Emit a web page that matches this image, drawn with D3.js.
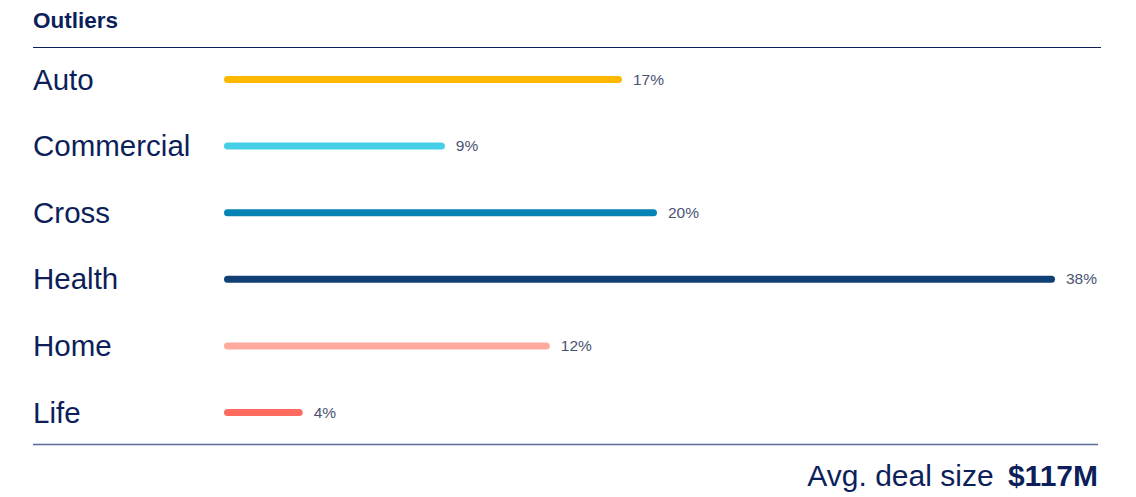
<!DOCTYPE html>
<html>
<head>
<meta charset="utf-8">
<script src="https://cdn.jsdelivr.net/npm/d3@7/dist/d3.min.js"></script>
<style>
  body { margin: 0; background: #fff; }
  text { font-family: "Liberation Sans", Arial, Helvetica, sans-serif; }
</style>
</head>
<body>
<div id="chart"></div>
<script>
var categories = ["Auto", "Commercial", "Cross", "Health", "Home", "Life"];
// bar lengths as drawn (share of outliers, %)
var values = [18.2, 10.1, 19.8, 38, 14.9, 3.6];
var valueLabels = ["17%", "9%", "20%", "38%", "12%", "4%"];
var colors = ["#FFB800", "#45CFE6", "#0583B5", "#0F3F74", "#FFAA9E", "#FF6B5F"];
var avgDealSize = "$117M";

var w = 1136, h = 497;
var navy = "#0C1F5A";

var svg = d3.select("#chart").append("svg")
    .attr("width", w).attr("height", h);

var x = d3.scaleLinear().domain([0, 38]).range([224, 1055]);
var y = d3.scalePoint().domain(categories).range([79.5, 412.5]);

svg.append("text")
    .attr("x", 33).attr("y", 28)
    .style("font-size", "22.5px").style("font-weight", "bold")
    .attr("fill", navy)
    .text("Outliers");

svg.append("line")
    .attr("x1", 33).attr("x2", 1101).attr("y1", 47.5).attr("y2", 47.5)
    .attr("stroke", navy).attr("stroke-width", 1);

var rows = svg.selectAll(".row").data(categories).enter().append("g")
    .attr("class", "row")
    .attr("transform", function (d) { return "translate(0," + y(d) + ")"; });

rows.append("text")
    .attr("x", 33).attr("y", 10)
    .style("font-size", "29.5px")
    .attr("fill", navy)
    .text(function (d) { return d; });

rows.append("line")
    .attr("x1", x(0) + 3.5)
    .attr("x2", function (d, i) { return x(values[i]) - 3.5; })
    .attr("y1", 0).attr("y2", 0)
    .attr("stroke", function (d, i) { return colors[i]; })
    .attr("stroke-width", 7)
    .attr("stroke-linecap", "round");

rows.append("text")
    .attr("x", function (d, i) { return x(values[i]) + 11; })
    .attr("y", 5)
    .style("font-size", "15.5px")
    .attr("fill", "#4A5272")
    .text(function (d, i) { return valueLabels[i]; });

svg.append("line")
    .attr("x1", 33).attr("x2", 1098).attr("y1", 444.5).attr("y2", 444.5)
    .attr("stroke", "#5A6A9C").attr("stroke-width", 1.5);

var foot = svg.append("text")
    .attr("x", 1098).attr("y", 486)
    .attr("text-anchor", "end")
    .style("font-size", "30px")
    .attr("fill", navy);
foot.append("tspan").text("Avg. deal size ");
foot.append("tspan").attr("dx", 6).style("font-weight", "bold").text(avgDealSize);
</script>
</body>
</html>
